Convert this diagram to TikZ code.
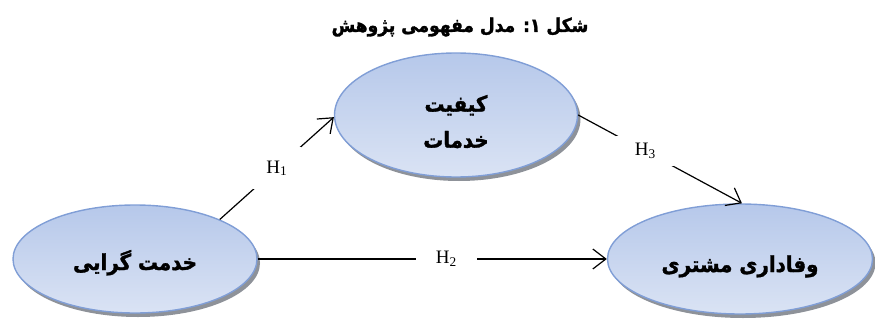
\documentclass[tikz,border=0pt]{standalone}
\usepackage{fontspec}
\setmainfont{Liberation Serif}
\newfontfamily\fa[Script=Arabic,FakeBold=1.5]{DejaVu Sans Condensed}
\TeXXeTstate=1
\usetikzlibrary{shapes.geometric,arrows.meta,shadows}
\definecolor{ellborder}{RGB}{128,158,214}
\definecolor{elltop}{RGB}{182,200,234}
\definecolor{ellbot}{RGB}{218,227,244}
\definecolor{ellshadow}{RGB}{130,134,142}
\begin{document}
\begin{tikzpicture}[x=1pt,y=-1pt,
  ell/.style={ellipse, draw=ellborder, line width=1.4pt,
    top color=elltop, bottom color=ellbot,
    drop shadow={shadow xshift=3pt,shadow yshift=-4pt,fill=ellshadow,opacity=0.9},
    inner sep=0pt, align=center,
    font=\fa\bfseries\fontsize{22}{36}\selectfont},
  conn/.style={line width=1.2pt, -{Straight Barb[length=13pt,width=20pt,line width=1.2pt]}},
  hlab/.style={fill=white, inner sep=0pt, font=\fontsize{19}{19}\selectfont}]
\useasboundingbox (0,0) rectangle (875,321);
\node[font=\fa\bfseries\fontsize{19}{22}\selectfont] (title) at (460,27) {\beginR شکل ۱: مدل مفهومی پژوهش\endR};
\node[ell, minimum width=243pt, minimum height=124pt] (T) at (456,115) {\rule{0pt}{30pt}\beginR کیفیت\endR\\\beginR خدمات\endR};
\node[ell, minimum width=244pt, minimum height=108pt, text height=30pt, text depth=8pt] (L) at (135,259) {\beginR خدمت گرایی\endR};
\node[ell, minimum width=265pt, minimum height=110pt, text height=32pt, text depth=6pt] (R) at (740,259) {\beginR وفاداری مشتری\endR};
\draw[conn] (L.25) -- node[hlab, minimum width=48pt, minimum height=42pt, pos=0.5] (h1) {H\textsubscript{1}} (T.181);
\draw[conn] (L.east) -- node[hlab, minimum width=61pt, minimum height=20pt, pos=0.54] (h2) {H\textsubscript{2}} (R.west);
\draw[conn] (T.east) -- node[hlab, minimum width=58pt, minimum height=30pt, pos=0.41] (h3) {H\textsubscript{3}} (R.88);
\end{tikzpicture}
\end{document}
